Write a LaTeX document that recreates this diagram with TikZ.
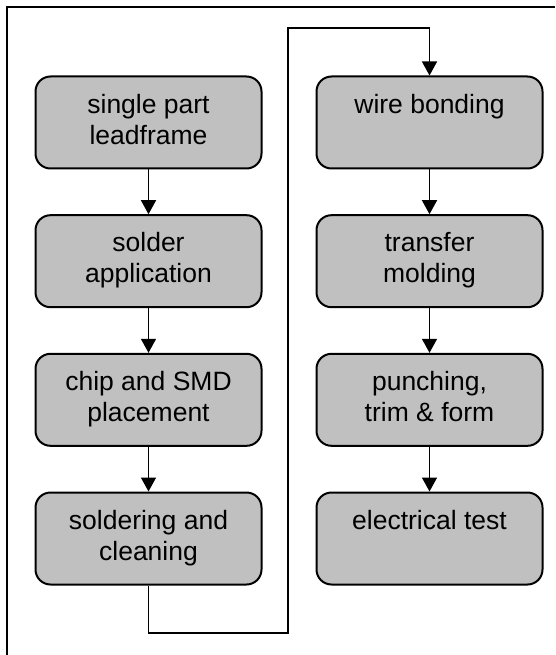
\documentclass[tikz,border=0pt]{standalone}
\usepackage{fontspec}
\setmainfont{Liberation Sans}
\usetikzlibrary{arrows.meta}
\definecolor{boxgray}{HTML}{C0C0C0}
\tikzset{
  stepbox/.style={draw=black, line width=2pt, rounded corners=15pt, fill=boxgray,
    minimum width=226pt, minimum height=92pt, inner sep=0pt, align=center,
    font=\fontsize{26.5pt}{31pt}\selectfont},
  flow/.style={line width=1.5pt, -{Triangle[length=14pt, width=15pt]}},
  frame/.style={line width=2pt}
}
\begin{document}
\begin{tikzpicture}[x=1pt, y=-1pt]
  \useasboundingbox (0,0) rectangle (555,655);
  % surrounding frame
  \coordinate (fbl) at (7,655);
  \coordinate (ftl) at (7,7.5);
  \coordinate (ftr) at (555,7.5);
  \draw[frame] (fbl) -- (ftl) -- (ftr);
  % left column
  \node[stepbox] (b1) at (148.5,122.5) {\strut single part\\\strut leadframe};
  \node[stepbox] (b2) at (148.5,261.2) {\strut solder\\\strut application};
  \node[stepbox] (b3) at (148.5,399.8) {\strut chip and SMD\\\strut placement};
  \node[stepbox] (b4) at (148.5,538.5) {\strut soldering and\\\strut cleaning};
  % right column
  \node[stepbox] (b5) at (429.5,122.5) {\strut wire bonding\\\strut};
  \node[stepbox] (b6) at (429.5,261.2) {\strut transfer\\\strut molding};
  \node[stepbox] (b7) at (429.5,399.8) {\strut punching,\\\strut trim \& form};
  \node[stepbox] (b8) at (429.5,538.5) {\strut electrical test\\\strut};
  % connectors
  \draw[flow] (b1) -- (b2);
  \draw[flow] (b2) -- (b3);
  \draw[flow] (b3) -- (b4);
  \coordinate (lo) at (288,633);
  \coordinate (hi) at (288,28);
  \draw[flow] (b4.south) |- (lo) -- (hi) -| (b5.north);
  \draw[flow] (b5) -- (b6);
  \draw[flow] (b6) -- (b7);
  \draw[flow] (b7) -- (b8);
\end{tikzpicture}
\end{document}
